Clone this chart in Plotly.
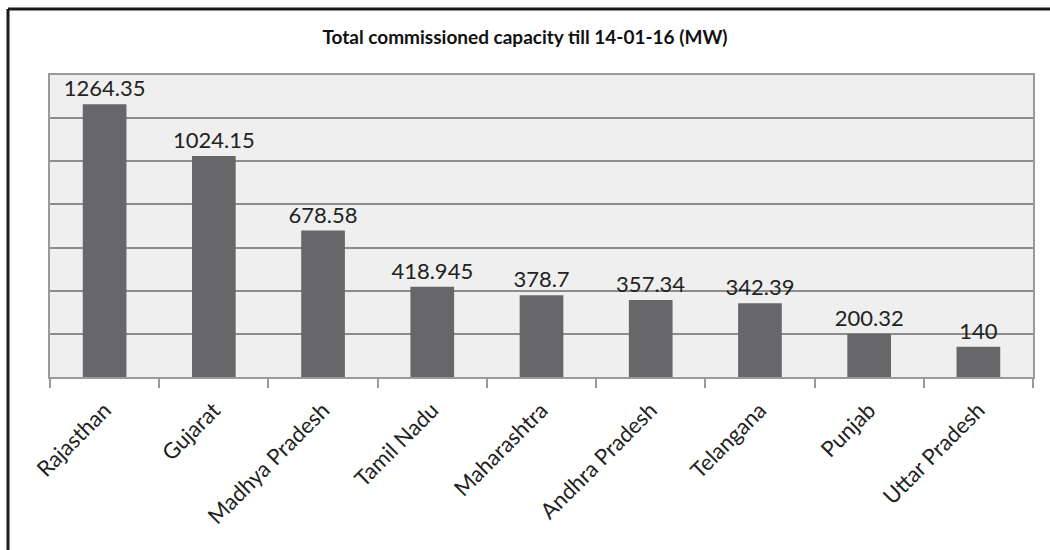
import plotly.graph_objects as go

states = ["Rajasthan", "Gujarat", "Madhya Pradesh", "Tamil Nadu", "Maharashtra",
          "Andhra Pradesh", "Telangana", "Punjab", "Uttar Pradesh"]
capacity_mw = [1264.35, 1024.15, 678.58, 418.945, 378.7, 357.34, 342.39, 200.32, 140]
value_labels = ["1264.35", "1024.15", "678.58", "418.945", "378.7", "357.34", "342.39", "200.32", "140"]
title_text = "Total commissioned capacity till 14-01-16 (MW)"

W, H = 1050, 550
ML, MR, MT, MB = 50, 17, 75, 173
pw = W - ML - MR
ph = H - MT - MB

def px_x(x):
    return (x - ML) / pw

def px_y(y):
    return (H - MB - y) / ph

FONT = "Lato, 'Open Sans', sans-serif"

fig = go.Figure(go.Bar(
    x=states, y=capacity_mw,
    text=value_labels, textposition="outside",
    textfont=dict(family=FONT, size=22, color="#222222"),
    marker=dict(color="#67676a", line=dict(width=0)),
    cliponaxis=False,
    width=0.4,
))

fig.update_layout(
    width=W, height=H,
    margin=dict(l=ML, r=MR, t=MT, b=MB, autoexpand=False),
    paper_bgcolor="white",
    plot_bgcolor="#efefef",
    showlegend=False,
    uniformtext=dict(minsize=22, mode="show"),
    title=dict(text="<b>" + title_text + "</b>", x=0.5, xanchor="center",
               y=1 - 37 / H, yanchor="middle",
               font=dict(family=FONT, size=19, color="#111111")),
    font=dict(family=FONT, color="#222222"),
    xaxis=dict(
        automargin=False,
        showline=True, linecolor="#9a9a9a", linewidth=1.5, mirror=True,
        ticks="outside", tickson="boundaries", ticklen=9, tickcolor="#9a9a9a", tickwidth=1.5,
        tickangle=-45, tickfont=dict(family=FONT, size=22, color="#222222"),
        ticklabelstandoff=10,
        showgrid=False,
    ),
    yaxis=dict(
        automargin=False,
        range=[0, 1400], dtick=200, showticklabels=False,
        showgrid=True, gridcolor="#8c8c8c", gridwidth=1.5,
        showline=True, linecolor="#9a9a9a", linewidth=1.5, mirror=True,
        zeroline=False, ticks="",
    ),
    shapes=[
        dict(type="line", xref="paper", yref="paper",
             x0=px_x(8), x1=px_x(W + 2), y0=px_y(9), y1=px_y(9),
             line=dict(color="#1a1a1a", width=3)),
        dict(type="line", xref="paper", yref="paper",
             x0=px_x(8), x1=px_x(8), y0=px_y(9), y1=px_y(H + 2),
             line=dict(color="#1a1a1a", width=3)),
    ],
)

fig.write_html("out.html", config={"displayModeBar": False},
               post_script="document.body.style.margin='0';document.body.style.overflow='hidden';")
